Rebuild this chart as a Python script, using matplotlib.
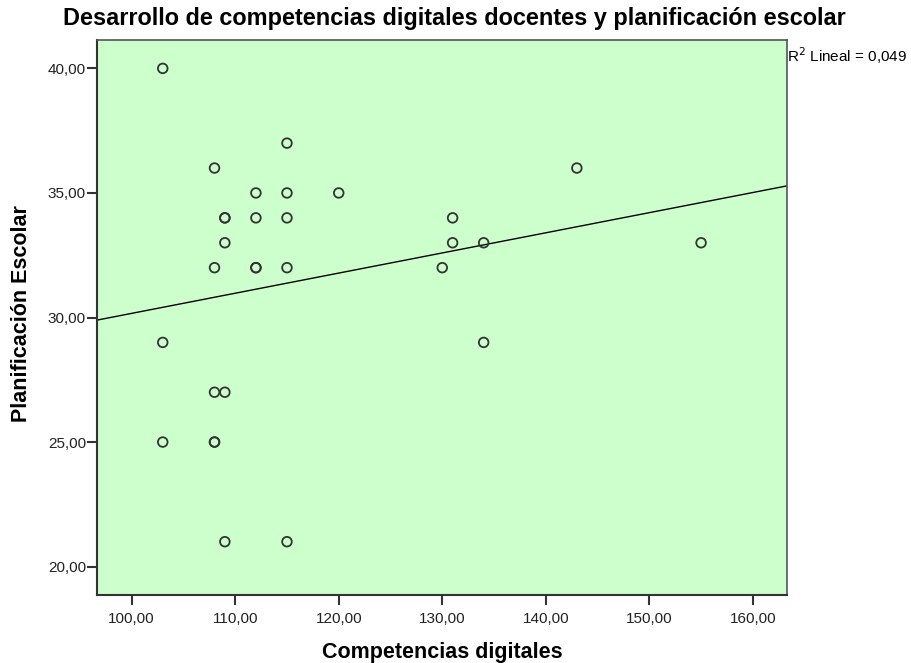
import numpy as np
import matplotlib
matplotlib.use("Agg")
import matplotlib.pyplot as plt

plt.rcParams['font.family'] = ['Liberation Sans', 'DejaVu Sans']

competencias = [103, 108, 115, 112, 115, 120, 143, 109, 109, 112, 115, 131, 109, 131, 134, 155,
                108, 112, 112, 115, 130, 103, 134, 108, 109, 103, 108, 108, 109, 115]
planificacion = [40, 36, 37, 35, 35, 35, 36, 34, 34, 34, 34, 34, 33, 33, 33, 33,
                 32, 32, 32, 32, 32, 29, 29, 27, 27, 25, 25, 25, 21, 21]
x_ticks = [100, 110, 120, 130, 140, 150, 160]
y_ticks = [20, 25, 30, 35, 40]
r2_text = "R$^2$ Lineal = 0,049"

fig = plt.figure(figsize=(9.12, 6.63), dpi=100)
ax = fig.add_axes([97/912, 1-595/663, (787-97)/912, (595-40)/663])
ax.set_facecolor('#CCFFCC')

x = np.array(competencias, dtype=float)
y = np.array(planificacion, dtype=float)
xlim = (96.65, 163.3)
ylim = (18.86, 41.14)

slope, intercept = np.polyfit(x, y, 1)
xx = np.array(xlim)
ax.plot(xx, intercept + slope*xx, color='black', lw=1.0, zorder=2)

ax.scatter(x, y, s=48, facecolors='none', edgecolors='#333333', linewidths=1.3, zorder=3)

ax.set_xlim(*xlim)
ax.set_ylim(*ylim)
ax.set_xticks(x_ticks)
ax.set_yticks(y_ticks)
fmt = lambda v: f"{v:.2f}".replace('.', ',')
ax.set_xticklabels([fmt(v) for v in x_ticks], fontsize=11, color='#222222')
ax.set_yticklabels([fmt(v) for v in y_ticks], fontsize=11, color='#222222')
ax.tick_params(axis='x', direction='out', length=7, width=1.5, color='#333333', pad=5)
ax.tick_params(axis='y', direction='out', length=7, width=1.5, color='#333333', pad=1)
for s in ['left', 'bottom']:
    ax.spines[s].set_color('#333333')
    ax.spines[s].set_linewidth(1.5)
for s in ['top', 'right']:
    ax.spines[s].set_color('#555555')
    ax.spines[s].set_linewidth(1.2)

fig.text(442/912, 1-658/663, 'Competencias digitales', ha='center', va='baseline',
         fontsize=15.5, fontweight='bold')
fig.text(22/912, 1-314/663, 'Planificación Escolar', ha='center', va='center',
         rotation=90, fontsize=15.5, fontweight='bold')
fig.text(454/912, 1-18/663, 'Desarrollo de competencias digitales docentes y planificación escolar',
         ha='center', va='center', fontsize=16.9, fontweight='bold')
fig.text(787/912, 1-56/663, r2_text, ha='left', va='center', fontsize=11)

fig.savefig('out.png', dpi=100)
